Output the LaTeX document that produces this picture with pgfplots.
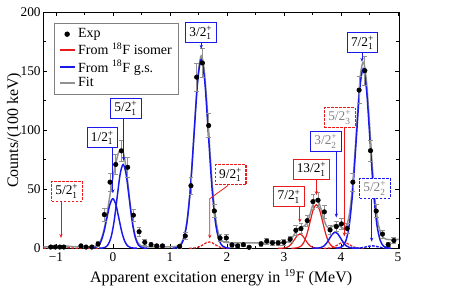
\documentclass[border=0pt]{standalone}
\usepackage{fontspec}
\setmainfont{Liberation Serif}
\usepackage{amsmath}
\usepackage{pgfplots}
\usepackage{pgfplotstable}
\pgfplotsset{compat=1.18}
\usetikzlibrary{arrows.meta}
\definecolor{myblue}{RGB}{25,25,235}
\definecolor{myred}{RGB}{235,25,25}
\definecolor{fitgray}{RGB}{145,145,145}
\newcommand{\lv}[3]{#1/#2$^{\text{+}}_{\text{#3}}$}
\tikzset{
  lbB/.style={draw=myblue, fill=white, inner xsep=2.2pt, inner ysep=1.2pt,
    minimum height=15pt, minimum width=23pt, line width=0.8pt,
    font=\fontsize{10}{12}\selectfont},
  lbR/.style={draw=myred, fill=white, inner xsep=2.2pt, inner ysep=1.2pt,
    minimum height=15pt, minimum width=23pt, line width=0.8pt,
    font=\fontsize{10}{12}\selectfont},
  dsh/.style={dash pattern=on 2pt off 1pt},
  arr/.style={line width=0.6pt, -{Stealth[length=3pt,width=2.4pt]}},
}

\pgfplotstableread{
x y ey
-1.09 1 1
-1.01 1 1
-0.93 1 1
-0.86 1 1
-0.56 2 1.4
-0.47 1 1
-0.37 1 1
-0.26 3.6 1.9
-0.15 28.5 5.3
-0.05 56 7.5
0.05 71 8.4
0.15 82.5 9.1
0.26 68.6 8.3
0.36 28 5.3
0.46 14 3.7
0.56 5 2.2
0.67 3 1.7
0.77 2 1.4
0.87 2 1.4
1.17 1.5 1.2
1.27 10.4 3.2
1.37 53 7.3
1.47 145 12
1.57 157 12.5
1.68 104 10.2
1.78 31.6 5.6
1.88 8.7 2.9
1.99 8.7 2.9
2.09 2.8 1.7
2.19 2 1.4
2.29 3 1.7
2.39 0.8 0.9
2.60 3.6 1.9
2.70 6 2.4
2.80 4.6 2.1
2.90 4.5 2.1
3.00 5 2.2
3.11 7.6 2.8
3.21 15.2 3.9
3.30 16.6 4.1
3.41 23.4 4.8
3.51 39.5 6.3
3.60 40.7 6.4
3.71 30.8 5.5
3.81 15.5 3.9
3.92 18.3 4.3
4.01 20.6 4.5
4.11 16.7 4.1
4.21 56 7.5
4.32 134 11.6
4.42 150.5 12.3
4.52 82.7 9.1
4.62 31.5 5.6
4.73 12 3.5
4.83 3 1.7
4.93 6.5 2.5
}\expdata

\pgfplotstableread{
x y
-1.22 1.2
-1.1 1.27
-1.0 1.59
-0.9 1.98
-0.8 1.78
-0.7 1.36
-0.6 1.2
-0.5 1.2
-0.4 1.23
-0.35 1.36
-0.3 1.91
-0.25 3.69
-0.2 8.15
-0.15 16.85
-0.1 29.9
-0.05 45.2
0.0 59.5
0.05 71.7
0.1 81.0
0.15 84.5
0.2 77.8
0.25 60.6
0.3 38.8
0.35 20.5
0.4 9.1
0.45 3.8
0.5 1.9
0.55 1.34
0.6 1.22
0.7 1.2
0.8 1.2
0.9 1.2
1.0 1.2
1.1 1.45
1.15 2.16
1.2 4.37
1.25 10.2
1.3 22.85
1.35 45.7
1.4 79.2
1.45 117.7
1.5 149.8
1.55 163.2
1.6 152.5
1.65 122.4
1.7 84.6
1.75 50.5
1.8 26.5
1.85 12.95
1.9 7.26
1.95 5.14
2.0 4.8
2.1 4.5
2.2 4.5
2.3 4.5
2.4 4.5
2.5 4.5
2.6 4.5
2.7 4.5
2.8 4.5
2.9 4.5
3.0 4.66
3.05 5.14
3.1 6.5
3.15 9.24
3.2 13.05
3.25 16.45
3.3 18.06
3.35 18.66
3.4 21.11
3.45 27.33
3.5 35.54
3.55 41.1
3.6 40.34
3.65 33.5
3.7 24.74
3.75 18.64
3.8 17.07
3.85 18.54
3.9 20.07
3.95 19.82
4.0 18.1
4.05 16.93
4.1 19.33
4.15 29.19
4.2 50.27
4.25 82.89
4.3 120.3
4.35 149.5
4.4 157.7
4.45 140.9
4.5 107.5
4.55 70.5
4.6 40.9
4.65 22.1
4.7 12.65
4.75 8.76
4.8 7.53
4.85 7.3
4.9 7.4
5.02 7.6
}\fitdata

\pgfplotstableread{
x y
-0.42 0.01
-0.3675 0.09
-0.315 0.47
-0.2625 1.84
-0.21 5.68
-0.1575 13.64
-0.105 25.47
-0.0525 37.07
0 42
0.0525 37.07
0.105 25.47
0.1575 13.64
0.21 5.68
0.2625 1.84
0.315 0.47
0.3675 0.09
0.42 0.01
}\gsA

\pgfplotstableread{
x y
-0.24 0.02
-0.1875 0.16
-0.135 0.79
-0.0825 3.12
-0.03 9.61
0.0225 23.05
0.075 43.06
0.1275 62.66
0.18 71
0.2325 62.66
0.285 43.06
0.3375 23.05
0.39 9.61
0.4425 3.12
0.495 0.79
0.5475 0.16
0.60 0.02
}\gsB

\pgfplotstableread{
x y
1.05 0.05
1.1125 0.35
1.175 1.78
1.2375 7.02
1.30 21.65
1.3625 51.95
1.425 97.04
1.4875 141.2
1.55 160
1.6125 141.2
1.675 97.04
1.7375 51.95
1.80 21.65
1.8625 7.02
1.925 1.78
1.9875 0.35
2.05 0.05
}\gsC

\pgfplotstableread{
x y
3.5 0.0
3.55 0.03
3.6 0.15
3.65 0.59
3.7 1.83
3.75 4.38
3.8 8.19
3.85 11.91
3.9 13.5
3.95 11.91
4.0 8.19
4.05 4.38
4.1 1.83
4.15 0.59
4.2 0.15
4.25 0.03
4.3 0.0
}\gsD

\pgfplotstableread{
x y
3.91 0.05
3.97 0.33
4.03 1.69
4.09 6.67
4.15 20.57
4.21 49.35
4.27 92.19
4.33 134.14
4.39 152
4.45 134.14
4.51 92.19
4.57 49.35
4.63 20.57
4.69 6.67
4.75 1.69
4.81 0.33
4.87 0.05
}\gsE

\pgfplotstableread{
x y
4.2 0.0
4.25 0.02
4.3 0.09
4.35 0.27
4.4 0.65
4.45 1.21
4.5 1.77
4.55 2
4.6 1.77
4.65 1.21
4.7 0.65
4.75 0.27
4.8 0.09
4.85 0.02
4.9 0
}\gsF

\pgfplotstableread{
x y
-1.22 0.0
-1.18 0.01
-1.13 0.035
-1.08 0.11
-1.03 0.26
-0.98 0.49
-0.93 0.71
-0.88 0.8
-0.83 0.71
-0.78 0.49
-0.73 0.26
-0.68 0.11
-0.63 0.035
-0.58 0.01
-0.2 0.0
}\isoA

\pgfplotstableread{
x y
1.34 0.01
1.39 0.06
1.44 0.23
1.49 0.72
1.54 1.72
1.59 3.21
1.64 4.68
1.69 5.3
1.74 4.68
1.79 3.21
1.84 1.72
1.89 0.72
1.94 0.23
1.99 0.06
2.04 0.01
}\isoB

\pgfplotstableread{
x y
2.90 0.0
2.9475 0.03
2.995 0.13
3.0425 0.53
3.09 1.62
3.1375 3.90
3.185 7.28
3.2325 10.59
3.28 12
3.3275 10.59
3.375 7.28
3.4225 3.90
3.47 1.62
3.5175 0.53
3.565 0.13
3.6125 0.03
3.66 0.0
}\isoC

\pgfplotstableread{
x y
3.13 0.01
3.185 0.08
3.24 0.41
3.295 1.62
3.35 5.01
3.405 12.01
3.46 22.44
3.515 32.65
3.57 37
3.625 32.65
3.68 22.44
3.735 12.01
3.79 5.01
3.845 1.62
3.90 0.41
3.955 0.08
4.01 0.01
}\isoD

\pgfplotstableread{
x y
3.70 0.01
3.75 0.06
3.80 0.22
3.85 0.68
3.90 1.62
3.95 3.03
4.00 4.41
4.05 5
4.10 4.41
4.15 3.03
4.20 1.62
4.25 0.68
4.30 0.22
4.35 0.06
4.40 0.01
}\isoE

\begin{document}
\begin{tikzpicture}
\begin{axis}[
  scale only axis, width=266.8pt, height=177pt,
  xmin=-1.22, xmax=5.02, ymin=0, ymax=200,
  xtick={-1,0,1,2,3,4,5}, xticklabels={−1,0,1,2,3,4,5},
  ytick={0,50,100,150,200}, yticklabels={0,50,100,150,200},
  minor x tick num=1, minor y tick num=1,
  tick align=inside, major tick length=3pt, minor tick length=2pt,
  tick style={black, line width=0.5pt},
  axis line style={line width=0.6pt},
  ticklabel style={font=\fontsize{10}{12}\selectfont},
  yticklabel style={xshift=1.5pt},
  xlabel={Apparent excitation energy in \textsuperscript{19}F (MeV)},
  ylabel={Counts/(100 keV)},
  label style={font=\fontsize{12}{14}\selectfont},
  xlabel style={at={(axis description cs:0.5,-0.125)}, anchor=center},
  ylabel style={at={(axis description cs:-0.0815,0.5)}, anchor=center},
  legend style={at={(axis description cs:0.031,0.955)}, anchor=north west,
    draw=gray, line width=0.6pt, font=\fontsize{10.5}{12}\selectfont,
    cells={anchor=west}, inner xsep=3pt, inner ysep=2pt, row sep=-1.5pt},
  legend image code/.code={\draw[mark repeat=2,mark phase=2,#1] plot coordinates {(0cm,0cm) (0.2cm,0cm) (0.4cm,0cm)};},
]
\addlegendimage{black, only marks, mark=*, mark size=1.7pt}
\addlegendentry{Exp}
\addlegendimage{myred, line width=1pt}
\addlegendentry{From \textsuperscript{18}F isomer}
\addlegendimage{myblue, line width=1.2pt}
\addlegendentry{From \textsuperscript{18}F g.s.}
\addlegendimage{fitgray, line width=1.2pt}
\addlegendentry{Fit}

\addplot[fitgray, line width=1.1pt, smooth, forget plot] table {\fitdata};

\addplot[myred, line width=0.9pt, dsh, smooth, forget plot] table {\isoA};
\addplot[myred, line width=0.9pt, dsh, smooth, forget plot] table {\isoB};
\addplot[myred, line width=0.9pt, smooth, forget plot] table {\isoC};
\addplot[myred, line width=0.9pt, smooth, forget plot] table {\isoD};
\addplot[myred, line width=0.9pt, dsh, smooth, forget plot] table {\isoE};

\addplot[myblue, line width=1.1pt, smooth, forget plot] table {\gsA};
\addplot[myblue, line width=1.1pt, smooth, forget plot] table {\gsB};
\addplot[myblue, line width=1.1pt, smooth, forget plot] table {\gsC};
\addplot[myblue, line width=1.1pt, smooth, forget plot] table {\gsD};
\addplot[myblue, line width=1.1pt, smooth, forget plot] table {\gsE};
\addplot[myblue, line width=1.1pt, dsh, smooth, forget plot] table {\gsF};

\addplot[black, only marks, mark=*, mark size=1.7pt, forget plot,
  error bars/.cd, y dir=both, y explicit,
  error bar style={fitgray, line width=0.5pt},
  error mark options={fitgray, rotate=90, mark size=1.8pt, line width=0.5pt}]
  table[x=x, y=y, y error=ey] {\expdata};

% level labels
\node[lbR, dsh] (LA) at (axis cs:-0.807,48.1) {\lv{5}{2}{1}};
\draw[arr, myred] ({axis cs:-0.91,0} |- LA.south) -- (axis cs:-0.91,8.7);

\node[lbB] (LB) at (axis cs:-0.184,93.5) {\lv{1}{2}{1}};
\draw[arr, myblue] ({axis cs:0,0} |- LB.south) -- (axis cs:0,46.6);

\node[lbB] (LC) at (axis cs:0.228,118.5) {\lv{5}{2}{1}};
\draw[arr, myblue] ({axis cs:0.19,0} |- LC.south) -- (axis cs:0.19,74);

\node[lbB] (LD) at (axis cs:1.544,182.5) {\lv{3}{2}{1}};
\draw[arr, myblue] ({axis cs:1.55,0} |- LD.south) -- (axis cs:1.55,169);

\node[lbR, dsh] (LE) at (axis cs:2.067,62.1) {\lv{9}{2}{1}};
\draw[arr, myred] ({axis cs:2.02,0} |- LE.south) -- (axis cs:1.70,42) -- (axis cs:1.70,8.1);

\node[lbR] (LF) at (axis cs:3.093,43.7) {\lv{7}{2}{1}};
\draw[arr, myred] ({axis cs:3.28,0} |- LF.south) -- (axis cs:3.28,21.7);

\node[lbR] (LG) at (axis cs:3.486,66.9) {\lv{13}{2}{1}};
\draw[arr, myred] ({axis cs:3.57,0} |- LG.south) -- (axis cs:3.57,45);

\node[lbB, text=gray] (LH) at (axis cs:3.737,90.5) {\lv{3}{2}{2}};
\draw[arr, myblue] ({axis cs:3.92,0} |- LH.south) -- (axis cs:3.92,26);

\node[lbR, dsh, text=gray] (LI) at (axis cs:3.98,110.8) {\lv{5}{2}{3}};
\draw[arr, myred] ({axis cs:4.06,0} |- LI.south) -- (axis cs:4.06,10);

\node[lbB] (LJ) at (axis cs:4.38,174.2) {\lv{7}{2}{1}};
\draw[arr, myblue] ({axis cs:4.37,0} |- LJ.south) -- (axis cs:4.37,158);

\node[lbB, dsh, text=gray] (LK) at (axis cs:4.596,50.8) {\lv{5}{2}{2}};
\draw[arr, myblue] ({axis cs:4.54,0} |- LK.south) -- (axis cs:4.54,5.6);
\end{axis}
\path (current axis.south west) ++(-32.5pt,-28.3pt) rectangle ([shift={(37.5pt,9.2pt)}]current axis.north east);
\end{tikzpicture}
\end{document}
